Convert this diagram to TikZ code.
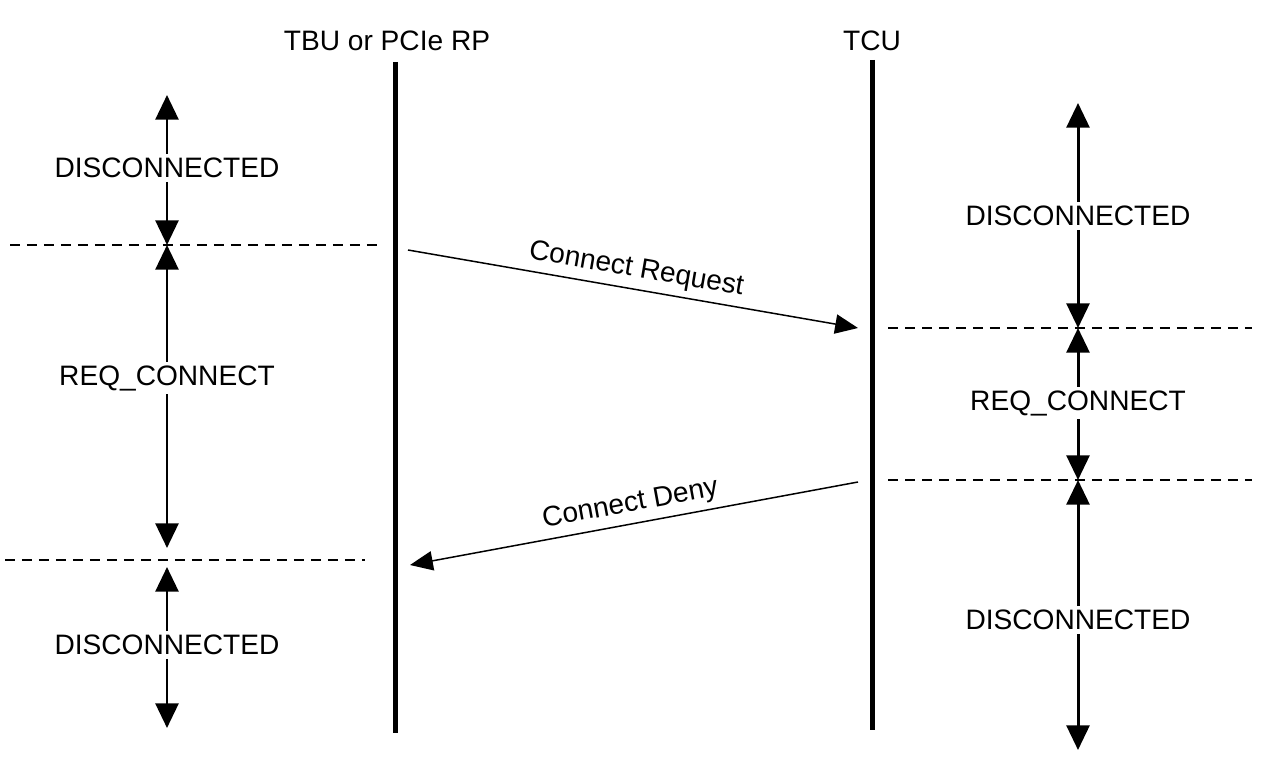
\documentclass[tikz,border=0pt]{standalone}
\usepackage{fontspec}
\setmainfont{Liberation Sans}
\usetikzlibrary{arrows.meta}
\tikzset{
  life/.style={line width=2.85pt},
  state/.style={inner sep=2pt},
  sarr/.style={-{Triangle[length=14pt,width=13pt]},line width=1.7pt},
  marr/.style={-{Triangle[length=13pt,width=11pt]},line width=0.85pt},
  cutline/.style={dash pattern=on 0.2cm off 0.14cm,line width=0.85pt},
}
\begin{document}
\begin{tikzpicture}[x=0.02cm,y=-0.02cm,font=\fontsize{16}{19}\selectfont]
        \useasboundingbox (0,0) rectangle (1270,760);
        % lifelines
        \node (tbu) at (387,41) {TBU or PCIe RP};
        \node (tcu) at (872,41) {TCU};
        \coordinate (tbuT) at (395,62);  \coordinate (tbuB) at (395,733);
        \coordinate (tcuT) at (872,60);  \coordinate (tcuB) at (872,730);
        \draw[life] (tbuT)--(tbuB); \draw[life] (tcuT)--(tcuB);
        % states of TBU or PCIe RP
        \node[state] (ld1) at (167,168) {DISCONNECTED};
        \node[state] (lrq) at (167,378) {REQ\_CONNECT};
        \node[state] (ld2) at (167,645) {DISCONNECTED};
        \coordinate (l0) at (167,95);  \coordinate (l1) at (167,245);
        \coordinate (l2) at (167,548); \coordinate (l3) at (167,567);
        \coordinate (l4) at (167,728);
        \draw[sarr] (ld1)--(l0); \draw[sarr] (ld1)--(l1);
        \draw[sarr] (lrq)--(l1); \draw[sarr] (lrq)--(l2);
        \draw[sarr] (ld2)--(l3); \draw[sarr] (ld2)--(l4);
        \draw[cutline] (10,245)--(378,245);
        \draw[cutline] (5,560)--(365,560);
        % states of TCU
        \node[state] (rd1) at (1078,216) {DISCONNECTED};
        \node[state] (rrq) at (1078,403) {REQ\_CONNECT};
        \node[state] (rd2) at (1078,620) {DISCONNECTED};
        \coordinate (r0) at (1078,103); \coordinate (r1) at (1078,328);
        \coordinate (r2) at (1078,480); \coordinate (r3) at (1078,750);
        \draw[sarr] (rd1)--(r0); \draw[sarr] (rd1)--(r1);
        \draw[sarr] (rrq)--(r1); \draw[sarr] (rrq)--(r2);
        \draw[sarr] (rd2)--(r2); \draw[sarr] (rd2)--(r3);
        \draw[cutline] (888,328)--(1252,328);
        \draw[cutline] (888,480)--(1252,480);
        % messages
        \coordinate (reqS) at (408,250); \coordinate (reqE) at (858,328);
        \coordinate (denS) at (858,482); \coordinate (denE) at (410,565);
        \draw[marr] (reqS)-- node[above,sloped] {Connect Request} (reqE);
        \draw[marr] (denS)-- node[above,sloped] {Connect Deny} (denE);
      \end{tikzpicture}
\end{document}
